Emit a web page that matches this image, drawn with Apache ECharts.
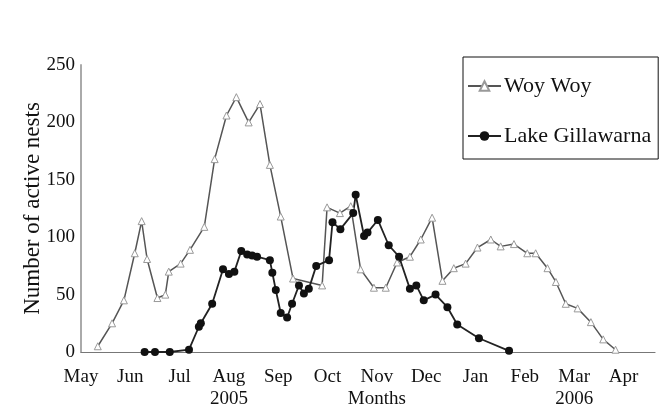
<!DOCTYPE html>
<html>
<head>
<meta charset="utf-8">
<script src="https://cdn.jsdelivr.net/npm/echarts@6/dist/echarts.min.js"></script>
<style>
html,body{margin:0;padding:0;background:#fff;}
#chart{width:672px;height:412px;}
</style>
</head>
<body>
<div id="chart"></div>
<script>
// x values: months since 1 May 2005 (May = 0)
var monthLabels = ['May','Jun','Jul','Aug','Sep','Oct','Nov','Dec','Jan','Feb','Mar','Apr'];
var subLabels = {3:'2005', 6:'Months', 10:'2006'};
var yTicks = [0, 50, 100, 150, 200, 250];

var woyWoyX = [0.34,0.63,0.87,1.09,1.23,1.34,1.55,1.71,1.78,2.02,2.21,2.50,2.71,2.95,3.15,3.40,3.63,3.83,4.05,4.30,4.89,4.99,5.25,5.47,5.67,5.94,6.18,6.41,6.67,6.89,7.12,7.33,7.56,7.80,8.04,8.31,8.51,8.78,9.05,9.22,9.46,9.63,9.83,10.07,10.34,10.59,10.84];
var woyWoyY = [5,25,45,86,114,81,47,50,70,77,89,109,168,206,222,200,216,163,118,64,58,126,121,127,72,56,56,78,83,98,117,62,73,77,91,98,92,94,86,86,73,61,42,38,26,11,2];

var gillX = [1.29,1.50,1.80,2.19,2.39,2.43,2.66,2.88,3.00,3.11,3.25,3.37,3.47,3.57,3.83,3.88,3.95,4.05,4.18,4.28,4.42,4.52,4.62,4.77,5.03,5.10,5.26,5.52,5.57,5.74,5.81,6.02,6.24,6.45,6.67,6.80,6.95,7.19,7.43,7.63,8.07,8.68];
var gillY = [0,0,0,2,22,25,42,72,68,70,88,85,84,83,80,69,54,34,30,42,58,51,55,75,80,113,107,121,137,101,104,115,93,83,55,58,45,50,39,24,12,1];

function zip(a, b){ return a.map(function(v,i){ return [v, b[i]]; }); }

var serif = '"Liberation Serif","DejaVu Serif",serif';
var chart = echarts.init(document.getElementById('chart'), null, {renderer:'canvas'});
chart.setOption({
  animation: false,
  backgroundColor: '#fff',
  textStyle: {fontFamily: serif},
  grid: {left: 81, right: 17, top: 65, bottom: 60, containLabel: false},
  legend: {
    orient: 'vertical',
    left: 463, top: 57,
    borderColor: '#111', borderWidth: 1,
    padding: [18, 7, 12, 4],
    itemGap: 28,
    itemWidth: 33, itemHeight: 12,
    textStyle: {fontFamily: serif, fontSize: 22, color: '#111', lineHeight: 22, padding: [0,0,0,-2]},
    data: ['Woy Woy', 'Lake Gillawarna']
  },
  xAxis: {
    type: 'value',
    min: 0, max: 11.64, interval: 1,
    axisLine: {show: true, lineStyle: {color: '#777', width: 1.2}},
    axisTick: {show: false},
    splitLine: {show: false},
    axisLabel: {
      showMaxLabel: false,
      fontFamily: serif, fontSize: 19, color: '#111', lineHeight: 22, margin: 14,
      formatter: function(v){
        var i = Math.round(v);
        if (Math.abs(v - i) > 1e-6 || i < 0 || i >= monthLabels.length) return '';
        return subLabels[i] ? monthLabels[i] + '\n' + subLabels[i] : monthLabels[i];
      }
    }
  },
  yAxis: {
    type: 'value',
    min: yTicks[0], max: yTicks[yTicks.length-1], interval: yTicks[1]-yTicks[0],
    name: 'Number of active nests',
    nameLocation: 'middle',
    nameGap: 37,
    nameMoveOverlap: false,
    nameTextStyle: {fontFamily: serif, fontSize: 23, color: '#111'},
    axisLine: {show: true, lineStyle: {color: '#aaa', width: 2}},
    axisTick: {show: false},
    splitLine: {show: false},
    axisLabel: {fontFamily: serif, fontSize: 19, color: '#111', margin: 6}
  },
  series: [
    {
      name: 'Woy Woy', type: 'line',
      data: zip(woyWoyX, woyWoyY),
      symbol: 'triangle', symbolSize: 7,
      lineStyle: {color: '#555', width: 1.5},
      itemStyle: {color: '#fff', borderColor: '#999', borderWidth: 1}
    },
    {
      name: 'Lake Gillawarna', type: 'line',
      data: zip(gillX, gillY),
      symbol: 'circle', symbolSize: 8,
      lineStyle: {color: '#222', width: 1.8},
      itemStyle: {color: '#111', borderColor: '#111', borderWidth: 0}
    }
  ]
});
</script>
</body>
</html>
